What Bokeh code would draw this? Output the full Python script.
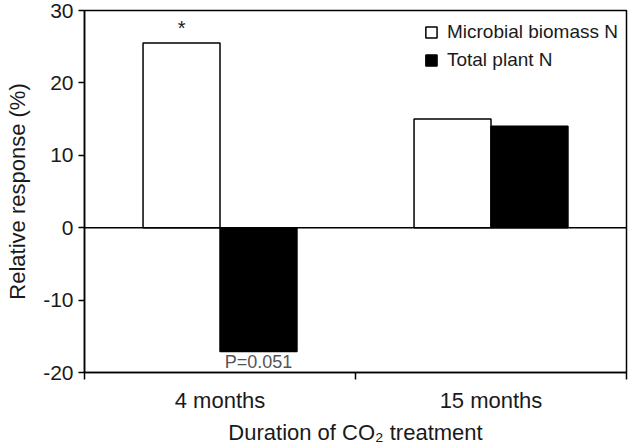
from bokeh.plotting import figure
from bokeh.models import ColumnDataSource, FixedTicker, Range1d, Span, Legend, LegendItem
from bokeh.transform import dodge
from bokeh.core.properties import value
from bokeh.embed import file_html
from bokeh.resources import INLINE

categories = ["4 months", "15 months"]
microbial_n = [25.5, 15.0]
plant_n = [-17.1, 14.0]
y_ticks = [-20, -10, 0, 10, 20, 30]
y_tick_labels = ["-20", "-10", "0", "10", "20", "30"]
star_labels = ["*", ""]
p_labels = ["P=0.051", ""]

FONT = "Liberation Sans"
TXT = "#1a1a1a"

xpos = [i + 0.5 for i in range(len(categories))]
src = ColumnDataSource(dict(x=xpos, mic=microbial_n, pl=plant_n,
                            star=star_labels, plab=p_labels))

p = figure(width=633, height=448, output_backend="svg", toolbar_location=None,
           x_range=Range1d(0, len(categories)), y_range=Range1d(-20, 30),
           min_border_left=84, min_border_right=7, min_border_top=10,
           min_border_bottom=76)

p.xgrid.visible = False
p.ygrid.visible = False
p.outline_line_color = "black"
p.outline_line_width = 1.5

bw = 0.284
r1 = p.vbar(x=dodge("x", -bw / 2), top="mic", bottom=0, width=bw, source=src,
            fill_color="white", line_color="black", line_width=1.5)
r2 = p.vbar(x=dodge("x", bw / 2), top="pl", bottom=0, width=bw, source=src,
            fill_color="black", line_color="black", line_width=1.5)

p.add_layout(Span(location=0, dimension="width", line_color="black", line_width=1.5))

p.text(x=dodge("x", -bw / 2), y="mic", text="star", source=src,
       text_font=value(FONT), text_font_size="20px", text_color=TXT,
       text_align="center", text_baseline="bottom", y_offset=-4)
p.text(x=dodge("x", bw / 2), y="pl", text="plab", source=src,
       text_font=value(FONT), text_font_size="18px", text_color="#555555",
       text_align="center", text_baseline="top", y_offset=0)

# x axis
xa = p.xaxis[0]
xa.ticker = FixedTicker(ticks=xpos, minor_ticks=list(range(len(categories) + 1)))
xa.major_label_overrides = {x: c for x, c in zip(xpos, categories)}
xa.major_tick_out = 0
xa.major_tick_in = 0
xa.minor_tick_out = 7
xa.minor_tick_in = 0
xa.minor_tick_line_width = 1.5
xa.axis_line_width = 1.5
xa.major_label_text_font = FONT
xa.major_label_text_font_size = "22px"
xa.major_label_text_color = TXT
xa.major_label_standoff = 8
xa.axis_label = "Duration of CO\u2082 treatment"
xa.axis_label_text_font = FONT
xa.axis_label_text_font_size = "22px"
xa.axis_label_text_font_style = "normal"
xa.axis_label_text_color = TXT
xa.axis_label_standoff = 4

# y axis
ya = p.yaxis[0]
ya.ticker = FixedTicker(ticks=y_ticks, minor_ticks=[])
ya.major_label_overrides = {t: l for t, l in zip(y_ticks, y_tick_labels)}
ya.major_tick_out = 6
ya.major_tick_in = 0
ya.major_tick_line_width = 1.5
ya.axis_line_width = 1.5
ya.major_label_text_font = FONT
ya.major_label_text_font_size = "21px"
ya.major_label_text_color = TXT
ya.major_label_standoff = 5
ya.axis_label = "Relative response (%)"
ya.axis_label_text_font = FONT
ya.axis_label_text_font_size = "22px"
ya.axis_label_text_font_style = "normal"
ya.axis_label_text_color = TXT
ya.axis_label_standoff = 10

legend = Legend(items=[LegendItem(label="Microbial biomass N", renderers=[r1]),
                       LegendItem(label="Total plant N", renderers=[r2])],
                location="top_right", border_line_color=None,
                background_fill_alpha=0, margin=8, padding=4, spacing=0,
                glyph_width=14, glyph_height=14, label_height=28,
                label_standoff=9, label_text_font=FONT,
                label_text_font_size="19px", label_text_color=TXT)
p.add_layout(legend)

open("out.html", "w").write(file_html(p, INLINE))
